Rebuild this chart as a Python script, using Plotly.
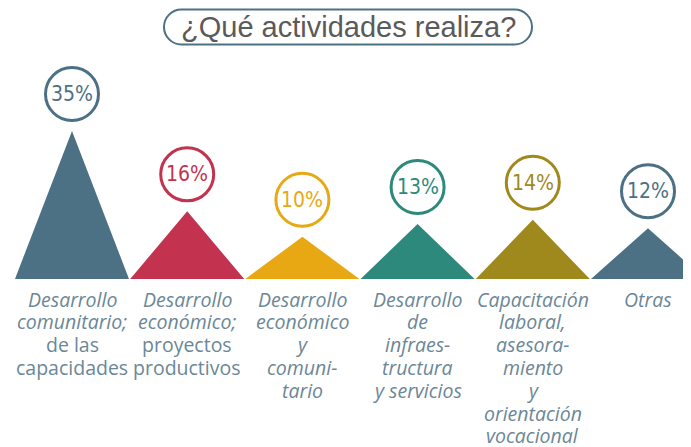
import plotly.graph_objects as go

categories = [
    "<i>Desarrollo</i><br><i>comunitario;</i><br>de las<br>capacidades",
    "<i>Desarrollo</i><br><i>económico;</i><br>proyectos<br>productivos",
    "<i>Desarrollo</i><br><i>económico</i><br><i>y</i><br><i>comuni-</i><br><i>tario</i>",
    "<i>Desarrollo</i><br><i>de</i><br><i>infraes-</i><br><i>tructura</i><br><i>y servicios</i>",
    "<i>Capacitación</i><br><i>laboral,</i><br><i>asesora-</i><br><i>miento</i><br><i>y</i><br><i>orientación</i><br><i>vocacional</i>",
    "<i>Otras</i>",
]
values = [35, 16, 10, 13, 14, 12]
pct_labels = ["35%", "16%", "10%", "13%", "14%", "12%"]
colors = ["#4c7084", "#c3334f", "#e8a813", "#2e897d", "#9f891c", "#4c7084"]
title_text = "¿Qué actividades realiza?"

# page body has an 8px margin: figure is laid out in page coords minus 8
OFF = 8
W, H = 691 - OFF, 447 - OFF
half = 0.495

fig = go.Figure()
shapes = []
annotations = []
for i, (v, c, p, lab) in enumerate(zip(values, colors, pct_labels, categories)):
    fig.add_trace(go.Scatter(
        x=[i - half, i, i + half, i - half], y=[0, v, 0, 0],
        mode="lines", fill="toself", fillcolor=c,
        line=dict(color=c, width=0), hoverinfo="skip", showlegend=False))
    shapes.append(dict(
        type="circle", xref="x", yref="y", xsizemode="pixel", ysizemode="pixel",
        xanchor=i, yanchor=v, x0=-26.5, x1=26.5, y0=37 - 26.5, y1=37 + 26.5,
        line=dict(color=c, width=3), fillcolor="white", layer="above"))
    annotations.append(dict(
        x=i, y=v, xref="x", yref="y", yshift=37, text=p, showarrow=False,
        font=dict(family="DejaVu Sans Condensed, Liberation Sans Narrow, sans-serif",
                  size=21, color=c)))
    for j, line in enumerate(lab.split("<br>")):
        annotations.append(dict(
            x=i, y=0, xref="x", yref="y", yanchor="middle", yshift=-(20 + 22.8 * j),
            text=line, showarrow=False, align="center", borderpad=0,
            font=dict(family="Open Sans, Lato, sans-serif", size=19.5, color="#6b8797")))

# title pill
cx, cy = (348 - OFF) / W, 1 - (27 - OFF) / H
hw, hh = 184, 17.5
r = hh
k = 0.5523 * r
path = (f"M {-hw + r},{hh} L {hw - r},{hh} "
        f"C {hw - r + k},{hh} {hw},{k} {hw},0 "
        f"C {hw},{-k} {hw - r + k},{-hh} {hw - r},{-hh} "
        f"L {-hw + r},{-hh} "
        f"C {-hw + r - k},{-hh} {-hw},{-k} {-hw},0 "
        f"C {-hw},{k} {-hw + r - k},{hh} {-hw + r},{hh} Z")
shapes.append(dict(type="path", xref="paper", yref="paper", xsizemode="pixel",
                   ysizemode="pixel", xanchor=cx, yanchor=cy, path=path,
                   line=dict(color="#4c7084", width=2), fillcolor="white"))
annotations.append(dict(x=cx, y=cy, xref="paper", yref="paper", text=title_text,
                        showarrow=False, yanchor="middle",
                        font=dict(family="Liberation Sans, Arial, sans-serif", size=29,
                                  color="#5a5a5a")))

px_per_x = 115.2
px_per_y = 148 / 35
c0 = 72 - OFF
base_px = 279 - OFF
fig.update_layout(
    width=W, height=H, margin=dict(l=0, r=0, t=0, b=0),
    paper_bgcolor="white", plot_bgcolor="white",
    xaxis=dict(range=[-c0 / px_per_x, (W - c0) / px_per_x], visible=False, fixedrange=True),
    yaxis=dict(range=[-(H - base_px) / px_per_y, base_px / px_per_y], visible=False, fixedrange=True),
    shapes=shapes, annotations=annotations, hovermode=False, showlegend=False,
)
fig.write_html("out.html")
